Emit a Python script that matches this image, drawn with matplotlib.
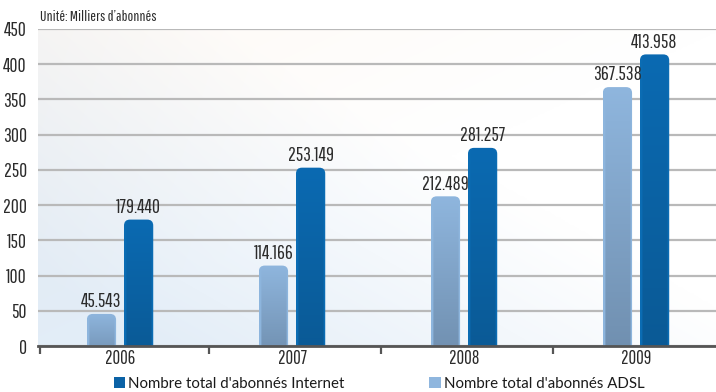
import numpy as np
import matplotlib
matplotlib.use("Agg")
import matplotlib.pyplot as plt
from matplotlib.patches import FancyBboxPatch, Patch

years = ["2006", "2007", "2008", "2009"]
adsl = [45.543, 114.166, 212.489, 367.538]
internet = [179.440, 253.149, 281.257, 413.958]
y_ticks = [0, 50, 100, 150, 200, 250, 300, 350, 400, 450]
unit_label = "Unité: Milliers d\u2019abonnés"
legend_labels = ["Nombre total d'abonnés Internet", "Nombre total d'abonnés ADSL"]

narrow = ["Pathway Gothic One", "PT Sans Narrow", "Oswald", "DejaVu Sans"]
txt = "#2b2b2b"

W, H = 716, 392
fig = plt.figure(figsize=(W / 100, H / 100), dpi=100)
fig.patch.set_facecolor("white")
ax = fig.add_axes([38 / W, 1 - 346 / H, 1 - 38 / W, (346 - 29) / H])

xlim = (-0.477, 3.465)
ylim = (0, 450)

# soft decorative backdrop
gx, gy = np.meshgrid(np.linspace(0, 1, 300), np.linspace(0, 1, 200))
blue = np.array([0.89, 0.93, 0.97])
warm = np.array([0.99, 0.96, 0.93])
white = np.array([1.0, 1.0, 1.0])
wb = np.clip(1.2 - 1.1 * gx - 0.9 * gy, 0, 1)[..., None]
ww = np.clip(0.9 * gy - 0.9 * gx, 0, 1)[..., None] * 0.6
bg = white * (1 - wb - ww) + blue * wb + warm * ww
bg = np.clip(bg, 0, 1)
ax.imshow(bg, extent=(xlim[0], xlim[1], ylim[0], ylim[1]), origin="lower",
          aspect="auto", zorder=0, interpolation="bicubic")

ax.set_xlim(*xlim)
ax.set_ylim(*ylim)

x = np.arange(len(years))
offset = 0.108
width = 0.17

b_adsl = ax.bar(x - offset, adsl, width, color="none", edgecolor="none")
b_int = ax.bar(x + offset, internet, width, color="none", edgecolor="none")

# pixel scale for rounded caps
ax_w_px = W * (1 - 38 / W)
ax_h_px = (346 - 29)
px_x = (xlim[1] - xlim[0]) / ax_w_px
px_y = (ylim[1] - ylim[0]) / ax_h_px
aspect = px_y / px_x
radius = 6 * px_x


def gradient_bar(rect, top_col, bot_col, edge_col):
    x0, w, h = rect.get_x(), rect.get_width(), rect.get_height()
    patch = FancyBboxPatch((x0, -20), w, h + 20,
                           boxstyle=f"round,pad=0,rounding_size={radius}",
                           mutation_aspect=aspect, facecolor="none",
                           edgecolor="none", zorder=3)
    ax.add_patch(patch)
    t = np.linspace(0, 1, 256)[:, None, None]
    top = np.array(matplotlib.colors.to_rgb(top_col))
    bot = np.array(matplotlib.colors.to_rgb(bot_col))
    edge = np.array(matplotlib.colors.to_rgb(edge_col))
    ncol = 29
    body = bot * (1 - t) + top * t
    body = np.repeat(body, ncol, axis=1)
    e = np.zeros(ncol)
    e[[0, 1, -1, -2]] = 1.0
    e[[2, -3]] = 0.4
    img = body * (1 - e[None, :, None]) + edge * e[None, :, None]
    im = ax.imshow(img, extent=(x0, x0 + w, -20, h), origin="lower",
                   aspect="auto", zorder=3, interpolation="nearest")
    im.set_clip_path(patch)


for r in b_adsl:
    gradient_bar(r, "#8fb6de", "#6f8eae", "#8db5dd")
for r in b_int:
    gradient_bar(r, "#0a6ab2", "#0a5994", "#0b6cb3")

ax.set_xlim(*xlim)
ax.set_ylim(*ylim)

for bars, vals in ((b_adsl, adsl), (b_int, internet)):
    for r, v in zip(bars, vals):
        ax.annotate(f"{v:.3f}", (r.get_x() + r.get_width() / 2, v),
                    xytext=(0, 2), textcoords="offset points", ha="center",
                    va="bottom", fontsize=14, family=narrow, color=txt,
                    zorder=5)

# grid and axes
ax.set_yticks(y_ticks)
ax.yaxis.grid(True, color="#b9b9b9", linewidth=1.6, zorder=1)
ax.set_axisbelow(True)
for s in ["top", "right", "left"]:
    ax.spines[s].set_visible(False)
ax.spines["bottom"].set_color("#555555")
ax.spines["bottom"].set_linewidth(2)
ax.spines["bottom"].set_zorder(4)
ax.tick_params(axis="y", length=0, pad=8, labelsize=14, labelcolor=txt)
for lab in ax.get_yticklabels():
    lab.set_family(narrow)

ax.set_xticks(x)
ax.set_xticklabels(years, family=narrow, fontsize=13.5, color=txt)
ax.tick_params(axis="x", which="major", length=0, pad=2)
ax.set_xticks(np.r_[-0.465, x[:-1] + 0.52], minor=True)
ax.tick_params(axis="x", which="minor", length=6, width=1.6, color="#555555",
               direction="out")

fig.text(40 / W, 1 - 17 / H, unit_label, family=narrow, fontsize=11,
         color=txt, va="center", ha="left")

handles = [Patch(facecolor="#0b62a6"), Patch(facecolor="#8fb6de")]
fig.legend(handles, legend_labels, loc="center left",
           bbox_to_anchor=(114 / W, 1 - 384 / H), ncol=2, frameon=False,
           handlelength=0.75, handleheight=0.75, handletextpad=0.2,
           columnspacing=5.65, borderaxespad=0, borderpad=0,
           prop={"family": "Lato", "size": 10.8}, labelcolor="#1a1a1a")

fig.savefig("out.png", dpi=100, facecolor="white")
